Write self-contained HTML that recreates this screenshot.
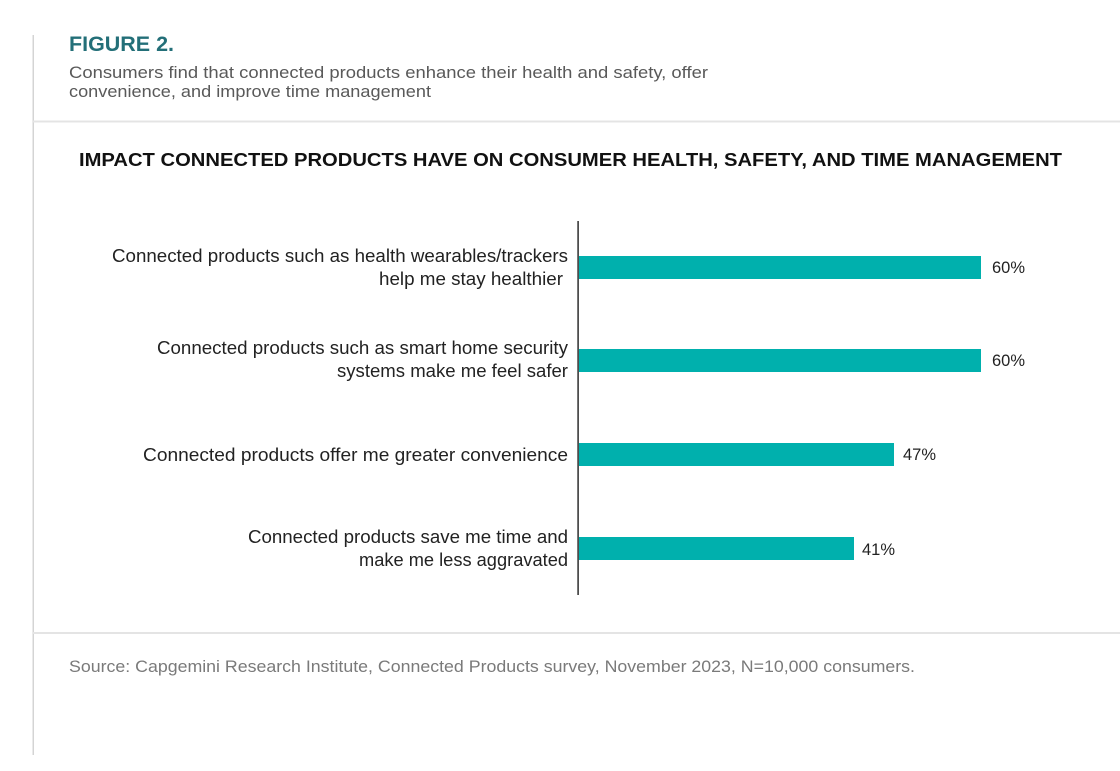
<!DOCTYPE html>
<html>
<head>
<meta charset="utf-8">
<style>
  html, body { margin: 0; padding: 0; background: #ffffff; }
  svg { display: block; }
  text { font-family: "Liberation Sans", "DejaVu Sans", sans-serif; }
</style>
</head>
<body>
<svg width="1120" height="771" viewBox="0 0 1120 771" xmlns="http://www.w3.org/2000/svg">
  <rect x="0" y="0" width="1120" height="771" fill="#ffffff"/>

  <!-- left vertical rule -->
  <rect x="32.5" y="35" width="1.5" height="720" fill="#d4d4d4"/>

  <!-- header -->
  <text x="69" y="51" font-size="21" font-weight="bold" fill="#236f78" textLength="105" lengthAdjust="spacingAndGlyphs">FIGURE 2.</text>
  <text x="69" y="78" font-size="16.5" fill="#595959" textLength="639" lengthAdjust="spacingAndGlyphs">Consumers find that connected products enhance their health and safety, offer</text>
  <text x="69" y="97" font-size="16.5" fill="#595959" textLength="362" lengthAdjust="spacingAndGlyphs">convenience, and improve time management</text>

  <!-- separator -->
  <rect x="33" y="120.5" width="1087" height="2" fill="#e4e4e4"/>

  <!-- chart title -->
  <text x="79" y="166" font-size="18" font-weight="bold" fill="#111111" textLength="983" lengthAdjust="spacingAndGlyphs">IMPACT CONNECTED PRODUCTS HAVE ON CONSUMER HEALTH, SAFETY, AND TIME MANAGEMENT</text>

  <!-- bars -->
  <rect x="579" y="256" width="402" height="23" fill="#00b0ad"/>
  <rect x="579" y="349" width="402" height="23" fill="#00b0ad"/>
  <rect x="579" y="443" width="315" height="23" fill="#00b0ad"/>
  <rect x="579" y="537" width="275" height="23" fill="#00b0ad"/>

  <!-- axis -->
  <rect x="577.3" y="221" width="1.6" height="374" fill="#3a3a3a"/>

  <!-- value labels -->
  <text x="992" y="273" font-size="17" fill="#222222" textLength="33" lengthAdjust="spacingAndGlyphs">60%</text>
  <text x="992" y="366" font-size="17" fill="#222222" textLength="33" lengthAdjust="spacingAndGlyphs">60%</text>
  <text x="903" y="460" font-size="17" fill="#222222" textLength="33" lengthAdjust="spacingAndGlyphs">47%</text>
  <text x="862" y="555" font-size="17" fill="#222222" textLength="33" lengthAdjust="spacingAndGlyphs">41%</text>

  <!-- category labels -->
  <text x="112" y="262" font-size="18" fill="#222222" textLength="456" lengthAdjust="spacingAndGlyphs">Connected products such as health wearables/trackers</text>
  <text x="379" y="285" font-size="18" fill="#222222" textLength="184" lengthAdjust="spacingAndGlyphs">help me stay healthier</text>

  <text x="157" y="354" font-size="18" fill="#222222" textLength="411" lengthAdjust="spacingAndGlyphs">Connected products such as smart home security</text>
  <text x="337" y="377" font-size="18" fill="#222222" textLength="231" lengthAdjust="spacingAndGlyphs">systems make me feel safer</text>

  <text x="143" y="461" font-size="18" fill="#222222" textLength="425" lengthAdjust="spacingAndGlyphs">Connected products offer me greater convenience</text>

  <text x="248" y="543" font-size="18" fill="#222222" textLength="320" lengthAdjust="spacingAndGlyphs">Connected products save me time and</text>
  <text x="359" y="566" font-size="18" fill="#222222" textLength="209" lengthAdjust="spacingAndGlyphs">make me less aggravated</text>

  <!-- bottom separator -->
  <rect x="33" y="632" width="1087" height="2" fill="#e4e4e4"/>

  <!-- source -->
  <text x="69" y="672" font-size="16.5" fill="#7a7a7a" textLength="846" lengthAdjust="spacingAndGlyphs">Source: Capgemini Research Institute, Connected Products survey, November 2023, N=10,000 consumers.</text>
</svg>
</body>
</html>
